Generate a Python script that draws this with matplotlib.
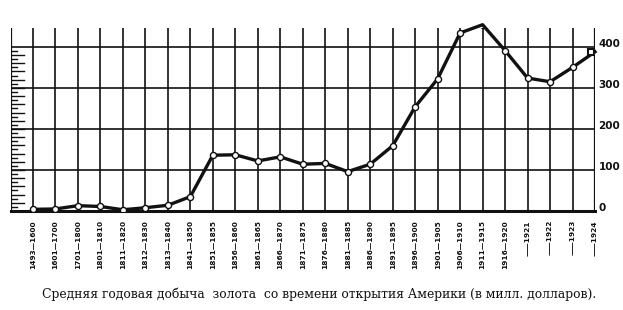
import matplotlib
matplotlib.use('Agg')
import matplotlib.pyplot as plt
import numpy as np

# periods along the bottom (typos kept as printed)
periods = ['1493—1600', '1601—1700', '1701—1800', '1801—1810', '1811—1820',
           '1812—1830', '1813—1840', '1841—1850', '1851—1855', '1856—1860',
           '1861—1865', '1866—1870', '1871—1875', '1876—1880', '1881—1885',
           '1886—1890', '1891—1895', '1896—1900', '1901—1905', '1906—1910',
           '1911—1915', '1916—1920', '——1921', '——1922', '——1923', '——1924']
# average yearly gold output, mill. dollars
gold = [4, 5, 13, 11, 3, 8, 14, 35, 136, 137, 122, 132, 114, 116, 96, 114,
        159, 254, 322, 434, 454, 391, 324, 315, 350, 388]
y_ticks = [0, 100, 200, 300, 400]
caption = 'Средняя годовая добыча  золота  со времени открытия Америки (в милл. долларов).'

W, H = 623, 310
fig = plt.figure(figsize=(W / 100, H / 100), dpi=100)
ax = fig.add_axes([10.5 / W, (H - 211) / H, (595 - 10.5) / W, (211 - 28) / H])
x = np.arange(len(gold))
ax.set_xlim(-1, len(gold) - 1)
ax.set_ylim(0, 446)
for s in ax.spines.values():
    s.set_visible(False)
ax.set_xticks([])
ax.set_yticks([])

ink = '#111111'
# vertical rules
for xi in range(-1, len(gold)):
    lw = 1.6 if xi in (-1, len(gold) - 1) else 1.2
    ax.axvline(xi, color=ink, lw=lw, zorder=1)
# horizontal rules
for yv in y_ticks[1:]:
    ax.axhline(yv, color=ink, lw=1.2, zorder=1)
ax.axhline(0, color=ink, lw=2.2, zorder=1, clip_on=False)

# small scale on the left rule
for v in range(10, 400, 10):
    ln = 0.6 if v % 20 == 0 else 0.3
    ax.plot([-1, -1 + ln], [v, v], color=ink, lw=1.0, zorder=1)

ax.plot(x, gold, color=ink, lw=2.4, zorder=2, clip_on=False)
ax.plot(x[:-1], gold[:-1], 'o', ms=4.4, mfc='white', mec=ink, mew=1.0, zorder=3)
ax.plot(x[-1:] - 0.2, gold[-1:], 's', ms=5, mfc='white', mec=ink, mew=1.5,
        zorder=3, clip_on=False)

# right scale
for yv in y_ticks:
    ax.text(len(gold) - 1 + 0.15, yv + 8, str(yv), ha='left', va='center',
            fontsize=7.5, fontweight='bold', family='DejaVu Sans', color=ink)

# period labels
for xi, lab in zip(x, periods):
    ax.text(xi, -22, lab, rotation=90, ha='center', va='top', fontsize=5.3,
            fontweight='bold', family='DejaVu Sans', color=ink)

fig.text(319 / W, 1 - 294 / H, caption, ha='center', va='center',
         fontsize=8.9, family='DejaVu Serif', color=ink)

fig.savefig('out.png', dpi=100)
